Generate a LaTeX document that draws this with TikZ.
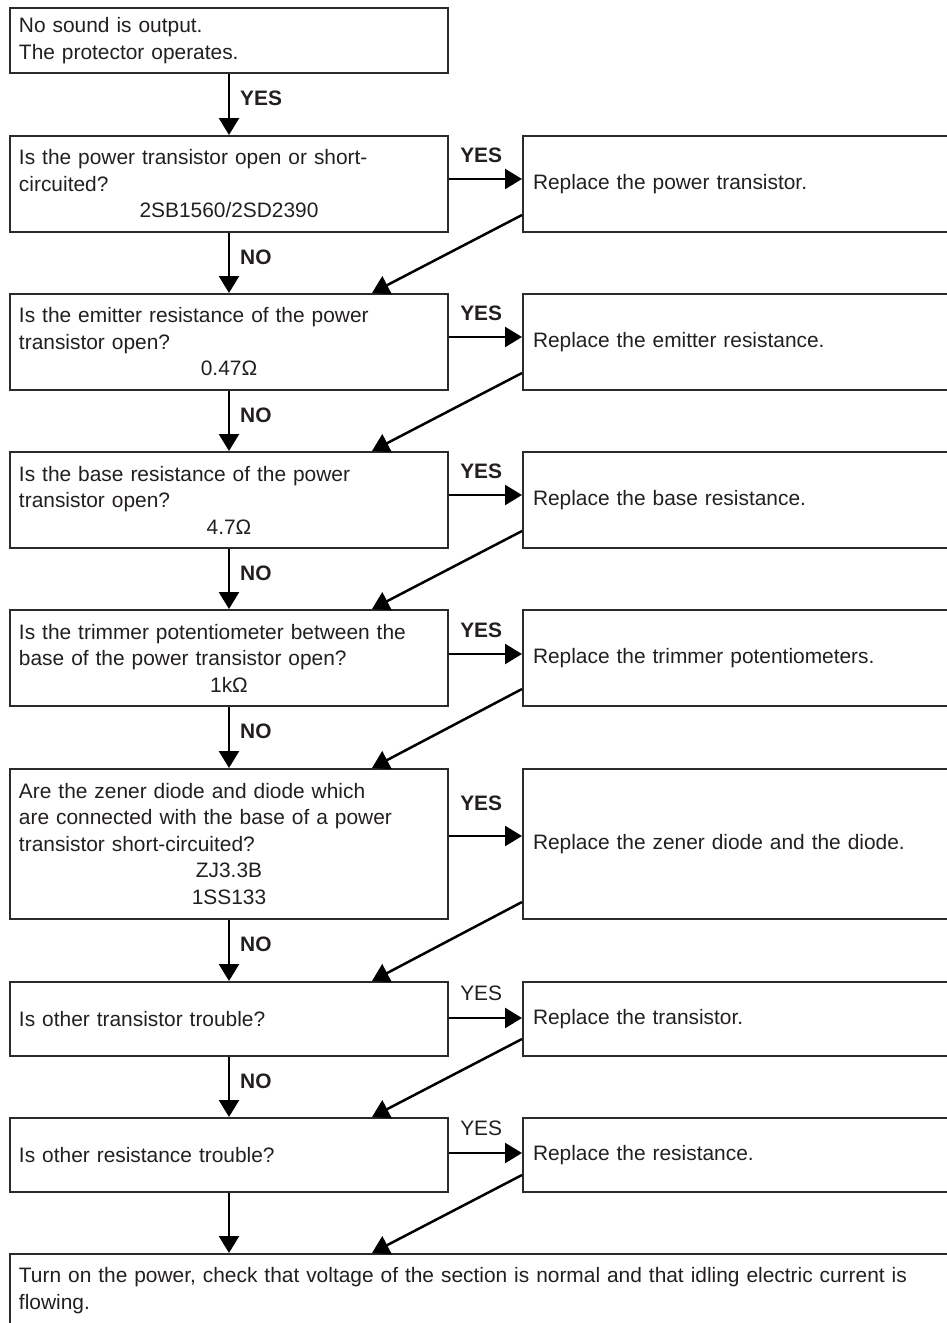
\documentclass[tikz,border=0pt]{standalone}
\usepackage{fontspec}
\setmainfont{Liberation Sans}
\usepackage{xcolor}
\definecolor{cLine}{HTML}{2B2B2B}
\definecolor{cText}{HTML}{231F20}
\usepackage{tikz}
\usetikzlibrary{positioning,arrows.meta}
\newcommand{\chartfont}{\fontsize{20.9pt}{26.5pt}\selectfont}
\tikzset{
  node-box/.style={draw=cLine,line width=2pt,text=cText,
    minimum width=438pt,text width=420pt,inner xsep=9pt,inner ysep=0pt,
    align=left,font=\chartfont},
  node-fix/.style={draw=cLine,line width=2pt,text=cText,
    minimum width=427pt,text width=407pt,inner xsep=10pt,inner ysep=0pt,
    align=left,font=\chartfont},
  % bottom box runs off the page on the right and at the foot
  node-final/.style={node-box,minimum width=942pt,text width=924pt},
  arrow/.style={-{Triangle[length=17pt,width=20pt]},line width=2.5pt,draw=black},
  label-yes/.style={anchor=base west,inner sep=0pt,text=cText,font=\chartfont\bfseries},
  label-plain/.style={anchor=base west,inner sep=0pt,text=cText,font=\chartfont},
  label-no/.style={anchor=west,inner sep=0pt,text=cText,font=\chartfont\bfseries},
}

\begin{document}
\begin{tikzpicture}[x=1pt,y=-1pt]
  \useasboundingbox (0,0) rectangle (947,1323);
  \clip (0,0) rectangle (947,1323);

  % questions, left column
  \node[node-box,minimum height=65pt,anchor=north west] (start) at (9,7)
    {No sound is output.\\The protector operates.};
  \node[node-box,minimum height=96pt,below=61pt of start] (q1)
    {Is the power transistor open or short-\\circuited?\\\makebox[\linewidth]{2SB1560/2SD2390}};
  \node[node-box,minimum height=96pt,below=60pt of q1] (q2)
    {Is the emitter resistance of the power\\transistor open?\\\makebox[\linewidth]{0.47Ω}};
  \node[node-box,minimum height=96pt,below=60pt of q2] (q3)
    {Is the base resistance of the power\\transistor open?\\\makebox[\linewidth]{4.7Ω}};
  \node[node-box,minimum height=96pt,below=60pt of q3] (q4)
    {Is the trimmer potentiometer between the\\base of the power transistor open?\\\makebox[\linewidth]{1kΩ}};
  \node[node-box,minimum height=150pt,below=61pt of q4] (q5)
    {Are the zener diode and diode which\\are connected with the base of a power\\transistor short-circuited?\\\makebox[\linewidth]{ZJ3.3B}\\\makebox[\linewidth]{1SS133}};
  \node[node-box,minimum height=74pt,below=61pt of q5] (q6) {Is other transistor trouble?};
  \node[node-box,minimum height=74pt,below=60pt of q6] (q7) {Is other resistance trouble?};
  \node[node-final,minimum height=73pt,below=60pt of q7.south west,anchor=north west] (end)
    {Turn on the power, check that voltage of the section is normal and that idling electric current is\\flowing.};

  % repairs, right column
  \node[node-fix,minimum height=96pt,right=73pt of q1] (r1) {Replace the power transistor.};
  \node[node-fix,minimum height=96pt,right=73pt of q2] (r2) {Replace the emitter resistance.};
  \node[node-fix,minimum height=96pt,right=73pt of q3] (r3) {Replace the base resistance.};
  \node[node-fix,minimum height=96pt,right=73pt of q4] (r4) {Replace the trimmer potentiometers.};
  \node[node-fix,minimum height=150pt,right=73pt of q5] (r5) {Replace the zener diode and the diode.};
  \node[node-fix,minimum height=74pt,right=73pt of q6] (r6) {Replace the transistor.};
  \node[node-fix,minimum height=74pt,right=73pt of q7] (r7) {Replace the resistance.};

  % down the left column
  \foreach \a/\b in {start/q1,q1/q2,q2/q3,q3/q4,q4/q5,q5/q6,q6/q7,q7/end}
    \draw[arrow] (\a.south) -- (\a.south |- \b.north);
  \node[label-no] (yes0) at ([xshift=11pt,yshift=-24pt]start.south) {YES};
  \foreach \a in {q1,q2,q3,q4,q5,q6}
    \node[label-no] (no-\a) at ([xshift=11pt,yshift=-24pt]\a.south) {NO};

  % across to the repairs
  \draw[arrow] ([yshift=5pt]q1.east) -- ([yshift=5pt]r1.west)
    node[label-yes,pos=0,xshift=10pt,yshift=17pt] (yes1) {YES};
  \draw[arrow] ([yshift=5pt]q2.east) -- ([yshift=5pt]r2.west)
    node[label-yes,pos=0,xshift=10pt,yshift=17pt] (yes2) {YES};
  \draw[arrow] ([yshift=5pt]q3.east) -- ([yshift=5pt]r3.west)
    node[label-yes,pos=0,xshift=10pt,yshift=17pt] (yes3) {YES};
  \draw[arrow] ([yshift=4pt]q4.east) -- ([yshift=4pt]r4.west)
    node[label-yes,pos=0,xshift=10pt,yshift=17pt] (yes4) {YES};
  \draw[arrow] ([yshift=8pt]q5.east) -- ([yshift=8pt]r5.west)
    node[label-yes,pos=0,xshift=10pt,yshift=26pt] (yes5) {YES};
  \draw[arrow] ([yshift=1pt]q6.east) -- ([yshift=1pt]r6.west)
    node[label-plain,pos=0,xshift=10pt,yshift=17.4pt] (yes6) {YES};
  \draw[arrow] ([yshift=2pt]q7.east) -- ([yshift=2pt]r7.west)
    node[label-plain,pos=0,xshift=10pt,yshift=17.4pt] (yes7) {YES};

  % back from each repair to the next question
  \foreach \r/\q in {r1/q2,r2/q3,r3/q4,r4/q5,r5/q6,r6/q7,r7/end}
    \draw[arrow] ([yshift=18pt]\r.south west) -- ([xshift=363pt]\q.north west);
\end{tikzpicture}
\end{document}
